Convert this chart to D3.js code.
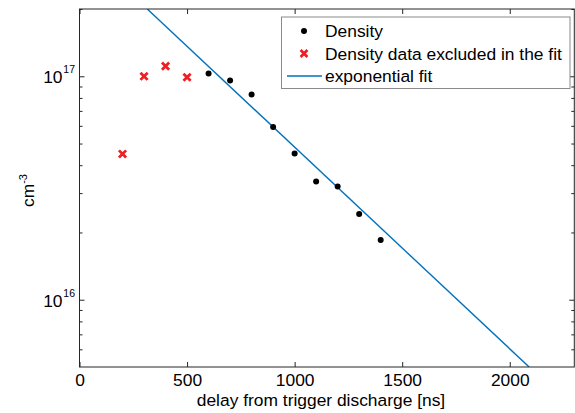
<!DOCTYPE html>
<html>
<head>
<meta charset="utf-8">
<script src="https://cdn.jsdelivr.net/npm/d3@7"></script>
<style>
  html, body { margin: 0; padding: 0; background: #fff; }
  svg { display: block; }
  text { font-family: "Liberation Sans", Arial, sans-serif; fill: #000; }
</style>
</head>
<body>
<svg id="chart" width="575" height="413"></svg>
<script>
// ---- data ----
const densityT = [600, 700, 800, 900, 1000, 1100, 1200, 1300, 1400];
const densityN = [1.03e17, 9.57e16, 8.28e16, 5.93e16, 4.51e16, 3.38e16, 3.21e16, 2.42e16, 1.85e16];
const excludedT = [200, 300, 400, 500];
const excludedN = [4.49e16, 1.0e17, 1.11e17, 0.99e17];
const fitT = [315, 2090];
const fitN = [2e17, 5e15];
const xTicks = [0, 500, 1000, 1500, 2000];
const yMajorTicks = [1e16, 1e17];
const yMajorExp = ["16", "17"];
const yMinorTicks = [6e15, 7e15, 8e15, 9e15, 2e16, 3e16, 4e16, 5e16, 6e16, 7e16, 8e16, 9e16, 2e17];
const legendLabels = ["Density", "Density data excluded in the fit", "exponential fit"];
const xLabel = "delay from trigger discharge [ns]";
const yLabel = "cm";
const yLabelExp = "-3";

// ---- layout ----
const L = 79.5, R = 574.3, T = 9, B = 367;
const axisColor = "#262626";
const red = "#ee2024", blue = "#0072BD";
const FS = 17.4;

const svg = d3.select("#chart");
const x = d3.scaleLinear().domain([0, 2300]).range([L, R]);
const y = d3.scaleLog().domain([5e15, 2e17]).range([B, T]);

svg.append("clipPath").attr("id", "clip")
  .append("rect").attr("x", L).attr("y", T).attr("width", R - L).attr("height", B - T);

// fit line
svg.append("path")
  .datum(fitT.map((t, i) => [t, fitN[i]]))
  .attr("clip-path", "url(#clip)")
  .attr("fill", "none").attr("stroke", blue).attr("stroke-width", 1.4)
  .attr("d", d3.line().x(d => x(d[0])).y(d => y(d[1])));

// density points
svg.append("g").selectAll("circle")
  .data(densityT.map((t, i) => [t, densityN[i]]))
  .join("circle")
  .attr("cx", d => x(d[0])).attr("cy", d => y(d[1])).attr("r", 3)
  .attr("fill", "#000");

// excluded points
function cross(g, cx, cy, s) {
  g.append("path")
    .attr("d", `M${cx - s},${cy - s}L${cx + s},${cy + s}M${cx - s},${cy + s}L${cx + s},${cy - s}`)
    .attr("stroke", red).attr("stroke-width", 2.8).attr("fill", "none");
}
const gx = svg.append("g");
excludedT.forEach((t, i) => cross(gx, x(t), y(excludedN[i]), 3.6));

// axes box
svg.append("rect").attr("x", L).attr("y", T).attr("width", R - L).attr("height", B - T)
  .attr("fill", "none").attr("stroke", axisColor).attr("stroke-width", 1);

// x axis (bottom, inward ticks) and top mirror
const xAxisB = d3.axisBottom(x).tickValues(xTicks).tickSizeInner(-5).tickSizeOuter(0)
  .tickPadding(7).tickFormat(d3.format("d"));
const gB = svg.append("g").attr("transform", `translate(0,${B})`).call(xAxisB);
gB.select(".domain").remove();
gB.selectAll("line").attr("stroke", axisColor);
gB.selectAll("text").attr("font-size", FS).attr("font-family", '"Liberation Sans", Arial, sans-serif').attr("fill", "#000");

const xAxisT = d3.axisTop(x).tickValues(xTicks).tickSizeInner(-5).tickSizeOuter(0).tickFormat("");
const gT = svg.append("g").attr("transform", `translate(0,${T})`).call(xAxisT);
gT.select(".domain").remove();
gT.selectAll("line").attr("stroke", axisColor);

// y axis major/minor ticks left & right
function yTicks(axisFn, xpos, vals, len) {
  const g = svg.append("g").attr("transform", `translate(${xpos},0)`)
    .call(axisFn(y).tickValues(vals).tickSizeInner(-len).tickSizeOuter(0).tickFormat(""));
  g.select(".domain").remove();
  g.selectAll("line").attr("stroke", axisColor);
}
yTicks(d3.axisLeft, L, yMajorTicks, 5);
yTicks(d3.axisLeft, L, yMinorTicks, 3);
yTicks(d3.axisRight, R, yMajorTicks, 5);
yTicks(d3.axisRight, R, yMinorTicks, 3);

// y major tick labels "10^n"
yMajorTicks.forEach((v, i) => {
  const yy = y(v);
  svg.append("text").attr("x", 62.5).attr("y", yy + 7).attr("text-anchor", "end")
    .attr("font-size", FS).text("10");
  svg.append("text").attr("x", 63.3).attr("y", yy - 2.8).attr("text-anchor", "start")
    .attr("font-size", 10.5).text(yMajorExp[i]);
});

// axis labels
svg.append("text").attr("x", 321).attr("y", 406).attr("text-anchor", "middle")
  .attr("font-size", FS).text(xLabel);

const yl = svg.append("text").attr("transform", "translate(33.5,207) rotate(-90)")
  .attr("text-anchor", "start").attr("font-size", FS);
yl.append("tspan").text(yLabel);
yl.append("tspan").attr("font-size", 11).attr("dy", -7).text(yLabelExp);

// legend
const lg = svg.append("g");
lg.append("rect").attr("x", 281.5).attr("y", 17).attr("width", 288.5).attr("height", 71.5)
  .attr("fill", "#fff").attr("stroke", "#8a8a8a").attr("stroke-width", 1);
const rowY = [31, 53.5, 76];
lg.append("circle").attr("cx", 304).attr("cy", rowY[0]).attr("r", 3).attr("fill", "#000");
cross(lg, 304, rowY[1], 3.4);
lg.append("line").attr("x1", 287).attr("x2", 322).attr("y1", rowY[2]).attr("y2", rowY[2])
  .attr("stroke", blue).attr("stroke-width", 1.4);
legendLabels.forEach((s, i) => {
  lg.append("text").attr("x", 325).attr("y", rowY[i] + 6).attr("font-size", FS).text(s);
});
</script>
</body>
</html>
